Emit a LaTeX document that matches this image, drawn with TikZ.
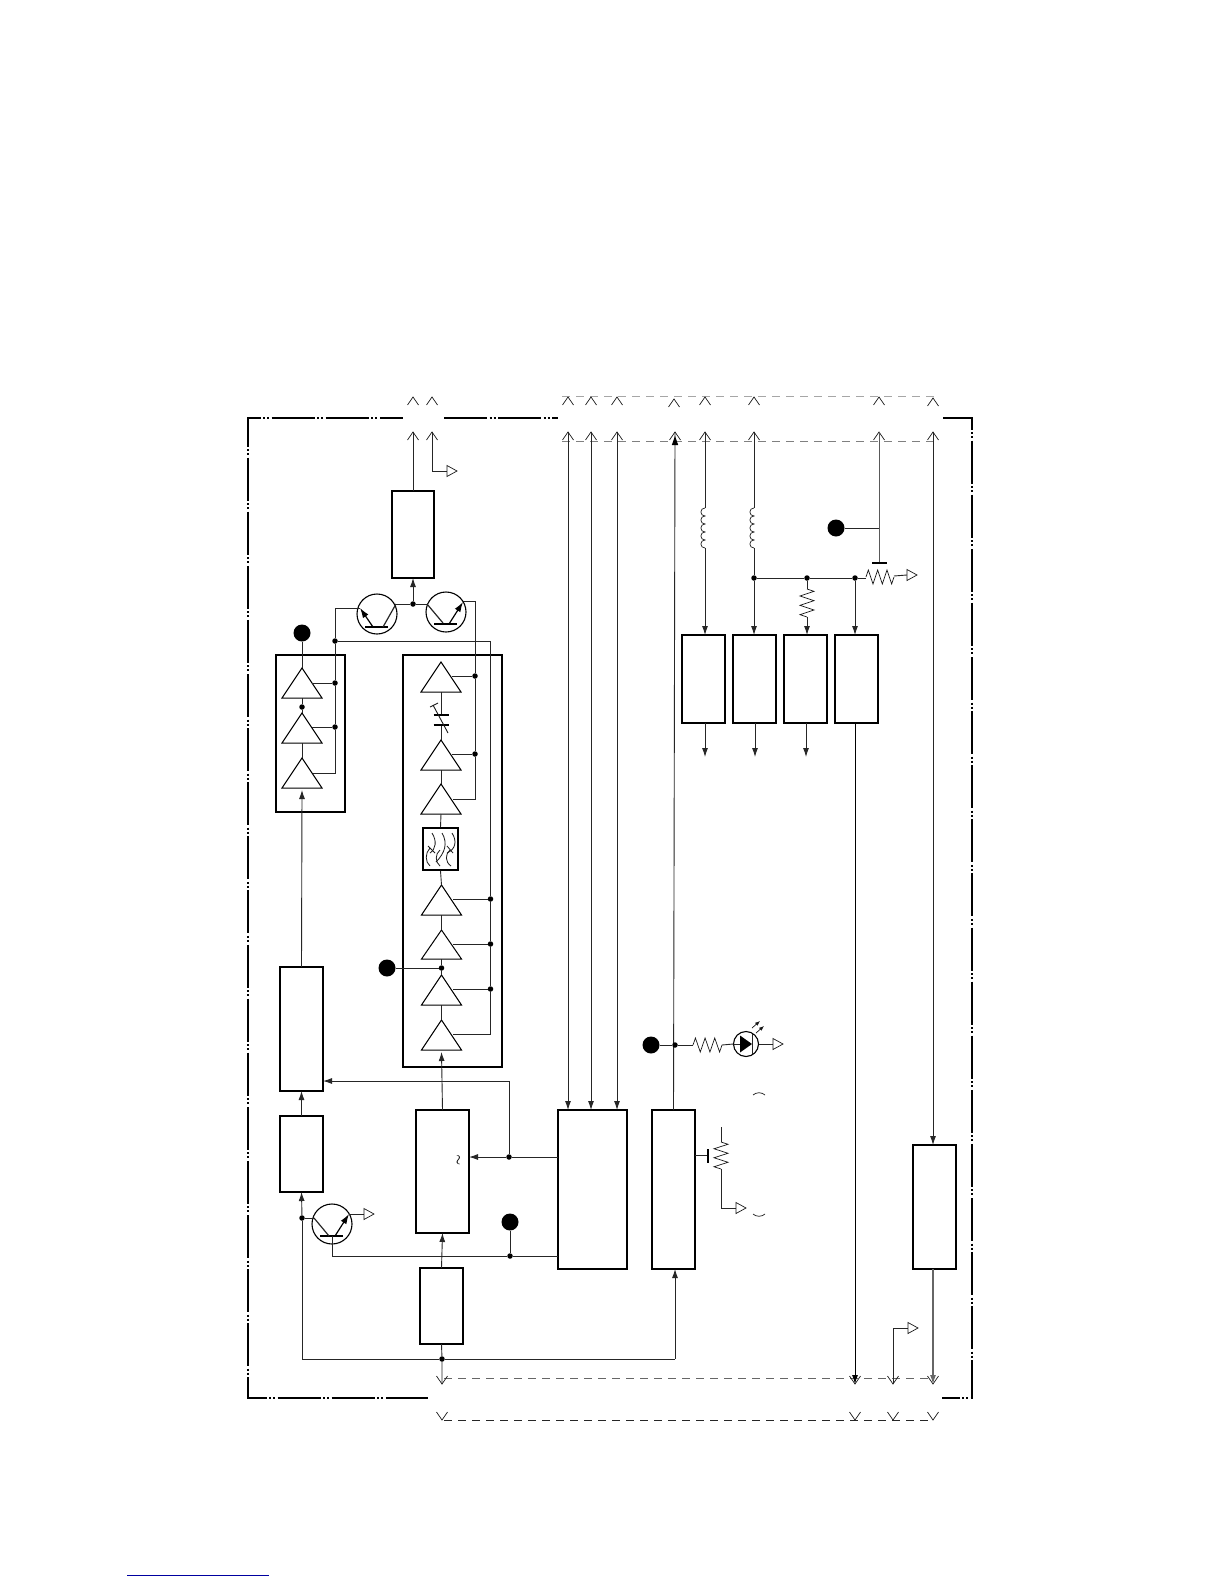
\documentclass[tikz,border=0pt]{standalone}
\usetikzlibrary{arrows.meta,calc}
\definecolor{linkblue}{RGB}{0,0,160}
\tikzset{
  x=1pt,y=-1pt,
  wire/.style={line width=0.9pt,black!85,line join=miter},
  thinw/.style={line width=0.7pt,black!90,line join=miter},
  arr/.style={wire,-{Latex[length=9pt,width=6pt]}},
  blkbox/.style={draw,line width=1.2pt,inner sep=0pt,outer sep=0pt,fill=white},
  bigdot/.style={circle,fill=black,inner sep=0pt,outer sep=0pt,minimum size=17pt},
  jdot/.style={circle,fill=black,inner sep=0pt,outer sep=0pt,minimum size=5.5pt},
  xtor/.style={circle,draw,line width=1.1pt,inner sep=0pt,outer sep=0pt,minimum size=40pt},
  xarr/.style={line width=1.2pt,black,-{Latex[length=10pt,width=6.5pt]}},
  frameline/.style={line width=2pt,black,dash pattern=on 43pt off 2.5pt on 2pt off 2pt on 2pt off 2.6pt},
  gdash/.style={line width=0.9pt,dash pattern=on 8pt off 6pt},
  ampt/.style={line width=1pt,line join=miter,fill=white},
  curve/.style={line width=0.8pt,black!90},
}
\newcommand\blk[5]{\node[blkbox,minimum width={(#4-#2)*1pt},minimum height={(#5-#3)*1pt}] (#1) at ({(#2+#4)/2},{(#3+#5)/2}) {};}
\newcommand\ampt[4]{%
  \coordinate (#1-a) at (#2,#3);\coordinate (#1-b) at (#2,#4);
  \draw[ampt] (#2,#3) -- ({#2+20},#4) -- ({#2-20},#4) -- cycle;}
\newcommand\chevup[3]{\coordinate (#1) at (#2,#3);\draw[thinw] ({#2-5.5},{#3+8}) -- (#2,#3) -- ({#2+5.5},{#3+8});}
\newcommand\chevdn[3]{\coordinate (#1) at (#2,#3);\draw[thinw] ({#2-5.5},{#3-8}) -- (#2,#3) -- ({#2+5.5},{#3-8});}
\newcommand\opentri[1]{\draw[thinw,fill=white] (#1) -- ++(0,-5.5) -- ++(10,5.5) -- ++(-10,5.5) -- cycle;}
\newcommand\hres[3]{% x0 x1 y
  \pgfmathsetmacro\rs{(#2-#1)/6}
  \draw[thinw] (#1,#3) -- ++({\rs/2},-7) -- ++(\rs,14) -- ++(\rs,-14) -- ++(\rs,14) -- ++(\rs,-14) -- ++(\rs,14) -- ++({\rs/2},-7);}
\newcommand\vres[3]{% x y0 y1
  \pgfmathsetmacro\rs{(#3-#2)/6}
  \draw[thinw] (#1,#2) -- ++(7,{\rs/2}) -- ++(-14,\rs) -- ++(14,\rs) -- ++(-14,\rs) -- ++(14,\rs) -- ++(-14,\rs) -- ++(7,{\rs/2});}
\newcommand\coil[3]{% x y0 y1, bulging left
  \pgfmathsetmacro\rs{(#3-#2)/5}
  \draw[thinw] (#1,#2) foreach \cn in {1,...,5} { .. controls +(-5.5,0) and +(-5.5,0) .. ++(0,\rs) };}
\begin{document}
\begin{tikzpicture}
\useasboundingbox (0,0) rectangle (1224,1584);
\fill[white] (0,0) rectangle (1224,1584);

% ---- enclosure
\draw[frameline,dash phase=30.5pt] (248,418) -- (403,418);
\draw[frameline,dash phase=13.5pt] (248,417) -- (248,1399);
\draw[frameline] (444,418) -- (558,418);
\draw[line width=2pt] (943,418) -- (972,418);
\draw[frameline,dash phase=30.5pt] (972,417) -- (972,1399);
\draw[frameline,dash phase=24.5pt] (248,1398) -- (428,1398);
\draw[frameline,dash phase=25.5pt] (942,1398) -- (972,1398);

% ---- dashed busses
\draw[gdash,black!35] (562,396) -- (934,396);
\draw[gdash,black!50] (562,441) -- (934,441);
\draw[gdash,black!60] (444,1378) -- (934,1378);
\draw[gdash,black!85] (444,1420) -- (932,1420);

% ---- chevrons
\chevup{u413}{413}{397}\chevup{u432}{432}{397}
\chevup{u568}{568}{397}\chevup{u591}{591}{397}\chevup{u617}{617}{397}
\chevup{u675}{674}{399}\chevup{u705}{705}{397}\chevup{u754}{754}{397}
\chevup{u879}{879}{397}\chevup{u933}{933}{398}
\chevup{v413}{413}{432}\chevup{v432}{432}{432}
\chevup{v568}{568}{432}\chevup{v591}{591}{432}\chevup{v617}{617}{432}
\chevup{v705}{705}{432}\chevup{v754}{754}{432}
\chevup{v879}{879}{432}\chevup{v933}{933}{432}
\chevdn{w442}{442}{1384}\chevdn{w855}{855}{1384}\chevdn{w893}{893}{1384}\chevdn{w933}{933}{1384}
\chevdn{z442}{442}{1420}\chevdn{z855}{855}{1420}\chevdn{z893}{893}{1420}\chevdn{z933}{933}{1420}

% ---- boxes
\blk{pa}{392}{491}{434}{578}
\blk{mix}{280}{967}{323}{1091}
\blk{lo}{280}{1116}{323}{1192}
\blk{vco}{416}{1110}{469}{1233}
\blk{pre}{420}{1268}{463}{1344}
\blk{ctl}{558}{1110}{627}{1269}
\blk{reg}{652}{1110}{695}{1269}
\blk{adc}{913}{1145}{956}{1269}
\blk{ra}{682}{635}{725}{723}
\blk{rb}{733}{635}{776}{723}
\blk{rc}{784}{635}{827}{723}
\blk{rd}{835}{635}{878}{723}
\node[draw,line width=1.1pt,inner sep=0pt,minimum width=69pt,minimum height=157pt] (blockL) at (310.5,733.5) {};
\node[draw,line width=1.1pt,inner sep=0pt,minimum width=99pt,minimum height=412pt] (blockR) at (452.5,861) {};

% ---- left amplifier chain
\node[bigdot] (bdL) at (302,633) {};
\ampt{L1}{302}{668}{698}
\ampt{L2}{302}{713}{743}
\ampt{L3}{302}{758}{788}
\node[jdot] (jL12) at (302,707) {};
\draw[wire] (bdL) -- (L1-a);
\draw[wire] (L1-b) -- (jL12) -- (L2-a);
\draw[wire] (L2-b) -- (L3-a);
\coordinate (L3in) at (302,790);
\draw[arr] (mix.north) -- (L3in);

% ---- right amplifier chain
\ampt{A1}{441}{662}{692}
\ampt{A2}{441}{740}{770}
\ampt{A3}{441}{784}{814}
\node[draw,line width=1.6pt,inner sep=0pt,minimum width=35pt,minimum height=42pt] (filt) at (440.5,849) {};
\ampt{A4}{441.5}{885}{915}
\ampt{A5}{441.5}{930}{959}
\ampt{A6}{441.5}{975}{1005}
\ampt{A7}{441.5}{1020}{1050}
\coordinate (capT) at (441,715);\coordinate (capB) at (441,725);
\draw[wire] (A1-b) -- (capT);
\draw[wire] (capB) -- (A2-a);
\draw[line width=2.2pt] (433.5,715) -- (448.5,715);
\draw[line width=2.2pt] (433.5,725) -- (448.5,725);
\draw[thinw,line width=0.9pt] (433,705) -- (448,733);
\draw[thinw,line width=0.9pt] (430,707) -- (438,703);
\draw[wire] (A2-b) -- (A3-a);
\draw[wire] (A3-b) -- (filt.north);
\draw[wire] (filt.south) -- (A4-a);
\draw[wire] (A4-b) -- (A5-a);
\node[jdot] (jA56) at (441.5,968) {};
\draw[wire] (A5-b) -- (jA56) -- (A6-a);
\draw[wire] (A6-b) -- (A7-a);
\node[bigdot] (bdA) at (387,968) {};
\draw[wire] (bdA) -- (jA56);
\coordinate (A7in) at (441.5,1052);
\draw[arr] (vco.north) -- (A7in);
% filter curves
\draw[curve] (432,833) .. controls (437,841) and (436,849) .. (430,853);
\draw[curve] (442,833) .. controls (448,843) and (445,853) .. (436,862);
\draw[curve] (452,833) .. controls (457,841) and (456,849) .. (447,853);
\draw[curve] (430,848) .. controls (425,853) and (425,862) .. (430,866);
\draw[curve] (440,850) .. controls (435,854) and (435,862) .. (440,866);
\draw[curve] (450,850) .. controls (445,854) and (445,862) .. (451,866);
\draw[curve] (428,846) -- (435,853);
\draw[curve] (447,846) -- (453,853);

% ---- bias rails
\coordinate (tEL) at (335,608);
\node[jdot] (jrail) at (335,641) {};
\node[jdot] (jL1) at (335,683) {};
\node[jdot] (jL2) at (335,727) {};
\coordinate (railEnd) at (335,773);
\draw[wire] (tEL) -- (jrail) -- (jL1) -- (jL2) -- (railEnd) -- (313,773);
\draw[wire] (312,683) -- (jL1);
\draw[wire] (312,727) -- (jL2);

\coordinate (railC) at (490.5,641);
\node[jdot] (jA4) at (490.5,899) {};
\node[jdot] (jA5) at (490.5,944) {};
\node[jdot] (jA6) at (490.5,989) {};
\coordinate (railD) at (490.5,1034);
\draw[wire] (jrail) -- (railC) -- (jA4) -- (jA5) -- (jA6) -- (railD) -- (453,1034);
\draw[wire] (453,899) -- (jA4);
\draw[wire] (453,944) -- (jA5);
\draw[wire] (453,989) -- (jA6);

\coordinate (t2E) at (475,601);
\node[jdot] (jA1) at (475,676) {};
\node[jdot] (jA2) at (475,754) {};
\coordinate (railB) at (475,799);
\draw[wire] (463,601) -- (t2E) -- (jA1) -- (jA2) -- (railB) -- (453,799);
\draw[wire] (452,676) -- (jA1);
\draw[wire] (452,754) -- (jA2);

% ---- output transistors
\node[xtor] (T1) at (377,614) {};
\node[xtor] (T2) at (446,612) {};
\draw[line width=2.6pt] (365,627) -- (388,627);
\draw[xarr] (373,627) -- (360,608);
\draw[wire,line width=1.2pt] (383,627) -- (396,604);
\draw[wire] (tEL) -- (360,608);
\draw[line width=2.6pt] (434,624) -- (457,624);
\draw[xarr] (449,624) -- (463,602);
\draw[wire,line width=1.2pt] (443,623) -- (427,604);
\node[jdot] (jT) at (413,604) {};
\draw[wire] (396,604) -- (jT) -- (427,604);
\draw[arr] (jT) -- (pa.south);

% ---- top left output
\draw[wire] (pa.north) -- (v413);
\coordinate (g1) at (447,471);
\draw[wire] (v432) |- (g1);
\opentri{g1}

% ---- mixer / LO / VCO / control
\draw[arr] (lo.north) -- (mix.south);
\node[jdot] (jV) at (509,1157) {};
\draw[wire] (ctl.west |- jV) -- (jV);
\draw[arr] (jV) -- (jV -| vco.east);
\coordinate (mixIn) at (323,1081);
\coordinate (jVtop) at (509,1081);
\draw[wire] (jV) -- (jVtop);
\draw[arr] (jVtop) -- (mixIn);
\node[rotate=90,inner sep=0pt,font=\fontsize{13}{13}\selectfont\boldmath] (tilde) at (459,1160) {$\sim$};

\draw[arr] (v568) -- (v568 |- ctl.north);
\draw[arr] (v591) -- (v591 |- ctl.north);
\draw[arr] (v617) -- (v617 |- ctl.north);

% regulator line and LED
\coordinate (v675) at (675,432);
\draw[wire] (reg.north) -- (v675);
\fill (675,436) -- (678.2,445) -- (671.8,445) -- cycle;
\draw[thinw] (669.5,440) -- (675,432) -- (680.5,440);
\node[bigdot] (bdR) at (651,1045) {};
\node[jdot] (jR) at (675,1045) {};
\draw[wire] (bdR) -- (jR) -- (693,1045);
\hres{693}{722}{1045}
\node[xtor,minimum size=25pt] (led) at (746,1044) {};
\draw[wire] (722,1045) -- (led.west);
\fill (740,1035.5) -- (752,1044) -- (740,1052.5) -- cycle;
\draw[wire,line width=1.1pt] (752.5,1034) -- (752.5,1054);
\draw[wire] (led.west) -- (740,1044);
\coordinate (g3) at (773,1044);
\draw[wire] (led.east) -- (g3);
\opentri{g3}
\draw[thinw,-{Latex[length=5pt,width=4pt]}] (752,1028) -- (760,1021);
\draw[thinw,-{Latex[length=5pt,width=4pt]}] (756,1033) -- (764,1026);
\draw[thinw] (753,1095) .. controls (756,1092) and (762,1092) .. (765,1095);
\draw[thinw] (753,1214) .. controls (756,1217) and (762,1217) .. (765,1214);

% potentiometer
\coordinate (wip) at (708,1155);
\draw[wire] (wip -| reg.east) -- (wip);
\draw[line width=1.2pt] (708,1149) -- (708,1163);
\coordinate (potT) at (721,1127);
\draw[wire] (potT) -- (721,1142);
\vres{721}{1142}{1169}
\coordinate (g4) at (736,1208);
\draw[wire] (721,1169) |- (g4);
\opentri{g4}

% ---- lower transistor
\node[xtor] (T3) at (332,1224) {};
\draw[line width=2.6pt] (320,1236) -- (343,1236);
\draw[xarr] (335,1236) -- (349,1214);
\draw[wire,line width=1.2pt] (329,1236) -- (314,1218);
\node[jdot] (jB) at (510,1256) {};
\coordinate (t3B) at (332,1256);
\draw[wire] (332,1236) -- (t3B) -- (jB) -- (jB -| ctl.west);
\node[bigdot] (bdB) at (510,1222) {};
\draw[wire] (bdB) -- (jB);
\coordinate (g2) at (364,1214);
\draw[wire] (349,1214) -- (g2);
\opentri{g2}

\node[jdot] (jT3) at (302,1218) {};
\draw[wire] (jT3) -- (314,1218);
\node[jdot] (jP) at (442,1359) {};
\coordinate (busL) at (302,1359);
\coordinate (busR) at (675,1359);
\draw[wire] (jP) -- (busL) -- (jT3);
\draw[arr] (jT3) -- (lo.south);
\draw[wire] (jP) -- (busR);
\draw[arr] (busR) -- (reg.south -| busR);
\draw[wire] (pre.south) -- (jP) -- (w442);
\draw[arr] (pre.north) -- (vco.south);

% ---- right side receivers
\coordinate (cA1) at (705,508);\coordinate (cA2) at (705,548);
\coordinate (cB1) at (754,508);\coordinate (cB2) at (754,548);
\draw[wire] (v705) -- (cA1);
\coil{705}{508}{548}
\draw[arr] (cA2) -- (cA2 |- ra.north);
\draw[wire] (v754) -- (cB1);
\coil{754}{508}{548}
\node[jdot] (j1) at (754,578) {};
\node[jdot] (j2) at (807,578) {};
\node[jdot] (j3) at (855,578) {};
\draw[wire] (cB2) -- (j1);
\draw[arr] (j1) -- (j1 |- rb.north);
\draw[wire] (j1) -- (j2) -- (j3) -- (866,578);
\hres{866}{894}{577}
\coordinate (g5) at (907,575);
\draw[wire] (894,576) -- (g5);
\opentri{g5}
\coordinate (rT) at (807,589);\coordinate (rB) at (807,617);
\draw[wire] (j2) -- (rT);
\vres{807}{589}{617}
\draw[arr] (rB) -- (rB |- rc.north);
\draw[arr] (j3) -- (j3 |- rd.north);
\coordinate (oa) at (705,757);\coordinate (ob) at (755,757);\coordinate (oc) at (806,757);
\draw[arr] (oa |- ra.south) -- (oa);
\draw[arr] (ob |- rb.south) -- (ob);
\draw[arr] (oc |- rc.south) -- (oc);
\draw[arr,black] (w855 |- rd.south) -- (w855);
% wiper of the pull-down
\coordinate (wp) at (879,563);
\draw[wire,black!65] (v879) -- (wp);
\draw[line width=1.1pt] (872,563) -- (887,563);
\node[bigdot] (bdW) at (836,528) {};
\draw[wire] (bdW) -- (879,528);

% ---- ADC column
\draw[arr] (v933) -- (v933 |- adc.north);
\draw[arr,black!60,line width=1.1pt] (w933 |- adc.south) -- (w933);
\coordinate (g6) at (908,1328);
\draw[wire] (w893) |- (g6);
\opentri{g6}

% ---- blue rule at the foot
\draw[linkblue,line width=1pt] (127,1575) -- (269,1575);
\end{tikzpicture}
\end{document}
